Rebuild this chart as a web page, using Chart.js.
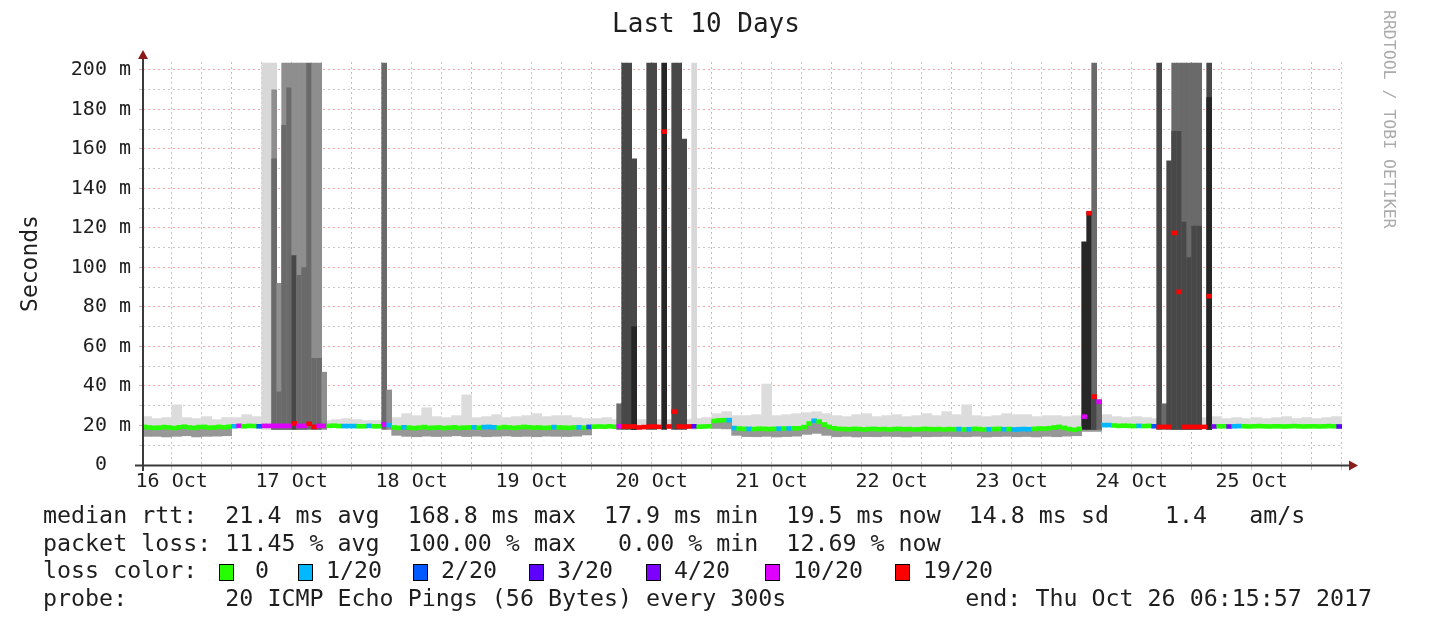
<!DOCTYPE html>
<html><head><meta charset="utf-8">
<script src="https://cdn.jsdelivr.net/npm/chart.js@4/dist/chart.umd.min.js"></script>
<style>html,body{margin:0;padding:0;background:#fff;}canvas{display:block;}</style>
</head><body>
<canvas id="c" width="1454" height="636"></canvas>
<script>
// ---- axis bounds (hours since 16 Oct 00:00) ----
const START_H = 6.2658, END_H = 246.2658;
const FIRST_HOUR = 6;
const dayLabels = ['16 Oct','17 Oct','18 Oct','19 Oct','20 Oct','21 Oct','22 Oct','23 Oct','24 Oct','25 Oct'];
const gridHours = [12,18,24,30,36,42,48,54,60,66,72,78,84,90,96,102,108,114,120,126,132,138,144,150,156,162,168,174,180,186,192,198,204,210,216,222,228,234,240,246];
const yTickValues = [0,10,20,30,40,50,60,70,80,90,100,110,120,130,140,150,160,170,180,190,200];

// ---- hourly median rtt (ms), hours 6..245 ----
const medianMs = [
  19.3,19.0,18.8,18.9,19.2,19.0,18.7,19.1,19.4,19.0,18.8,19.2,19.3,18.9,19.0,19.3,19.1,19.4,
  19.6,19.8,19.6,19.8,19.7,19.6,19.8,19.8,19.8,19.8,19.8,19.8,21.0,19.8,19.8,20.8,19.3,19.8,19.8,19.8,19.9,19.7,19.7,19.7,
  19.7,19.6,19.6,19.8,19.6,19.6,20.5,20.2,19.0,18.8,19.1,18.9,18.7,18.9,19.2,18.8,18.9,19.0,18.7,18.9,19.1,18.8,18.9,19.0,
  19.1,18.9,19.2,19.3,19.1,18.9,19.2,19.0,18.8,19.0,19.3,19.1,18.9,19.0,18.8,18.9,19.2,19.0,18.9,18.8,19.0,19.1,18.9,19.3,
  19.4,19.5,19.4,19.6,19.4,19.6,19.5,19.5,19.5,19.0,19.2,19.4,19.5,19.3,168.8,19.5,27.0,19.5,19.4,19.5,19.6,19.4,19.5,19.6,
  22.3,22.6,22.7,22.7,18.7,18.5,18.3,18.3,18.2,18.4,18.3,18.2,18.3,18.4,18.5,18.5,18.6,18.6,19.2,21.0,22.4,22.0,20.5,19.3,
  18.6,18.3,18.2,18.1,18.3,18.2,18.0,18.2,18.3,18.1,18.2,18.0,18.2,18.3,18.1,18.2,18.0,18.1,18.3,18.2,18.1,18.2,18.0,18.2,
  18.1,18.2,18.0,18.1,18.3,18.2,18.0,18.1,18.2,18.3,18.1,18.2,18.0,18.1,18.2,18.1,18.3,18.5,18.4,18.6,19.0,19.3,18.8,18.2,
  17.8,18.3,24.5,127.5,34.6,32.0,20.2,20.2,20.0,19.8,19.9,19.8,19.7,19.8,19.7,19.8,19.6,19.3,19.3,19.3,117.5,87.7,19.3,19.3,
  19.3,19.3,19.3,85.5,19.5,19.6,19.6,19.5,19.6,19.7,19.6,19.5,19.6,19.7,19.6,19.5,19.6,19.6,19.5,19.6,19.7,19.6,19.5,19.6,
  19.6,19.5,19.6,19.7,19.6,19.5
];
// ---- hourly loss level (index into lossColors), hours 6..245 ----
const lossLevel = [
  0,0,0,0,0,0,0,0,0,0,0,0,0,0,0,0,0,0,
  1,5,0,0,0,2,5,5,5,5,5,5,6,5,5,6,6,5,5,0,0,0,1,1,
  1,0,0,1,0,0,5,1,0,0,1,0,0,0,0,0,0,0,0,0,0,0,0,0,
  1,0,1,1,1,0,0,0,0,0,0,0,0,0,0,0,1,0,0,0,0,1,0,2,
  0,0,0,0,0,5,6,6,6,6,6,6,6,6,6,6,6,6,6,6,3,0,0,0,
  0,0,0,1,1,0,0,1,0,0,0,0,0,1,0,1,0,0,0,0,1,0,0,0,
  0,0,0,0,0,0,0,0,0,0,0,0,0,0,0,0,0,0,0,0,0,0,0,0,
  0,1,0,1,0,0,0,1,0,0,1,0,1,1,1,1,0,0,0,0,0,0,0,0,
  0,0,5,6,6,5,1,1,0,0,0,0,0,1,0,0,2,6,6,6,6,6,6,6,
  6,6,6,6,4,0,0,4,1,1,0,0,0,0,0,0,0,0,0,0,0,0,0,0,
  0,0,0,0,0,3
];

// ---- smoke, 2-hour bins starting at hour 6 (ms) ----
const smokeLo = [
  14.5,14.5,14.2,14.5,14.8,14.2,14.5,14.6,14.8,
  null,null,null,null,null,null,null,null,null,null,null,null,null,null,null,null,
  15.0,14.5,14.3,14.6,14.4,14.5,14.8,14.4,14.6,14.3,14.5,14.7,14.4,14.5,14.3,14.6,14.5,14.4,14.6,15.2,
  null,null,null,null,null,null,null,null,null,null,null,null,
  18.5,18.3,15.0,
  14.4,14.3,14.5,14.2,14.4,14.6,15.5,16.0,15.0,
  14.3,14.5,14.2,14.4,14.3,14.5,14.4,14.2,14.5,14.3,14.4,14.5,
  14.4,14.3,14.5,14.2,14.4,14.5,14.3,14.4,14.2,14.5,14.3,14.6,14.8,
  17.0,17.0,
  null,null,null,null,null,null,null,null,null,null,null,null,null,null,null,null,null,null,null,null,null,null,null,null
];
const smokeMid = [
  19.0,19.0,19.0,19.0,19.0,19.0,19.0,19.0,19.0,
  19.6,19.6,19.6,19.6,19.6,19.6,19.6,19.6,19.6,19.6,19.6,19.6,19.6,19.6,19.6,19.6,
  18.9,18.9,18.9,18.9,18.9,18.9,18.9,18.9,18.9,18.9,18.9,18.9,18.9,18.9,18.9,18.9,18.9,18.9,18.9,18.9,
  19.5,19.5,19.5,19.5,19.5,19.5,19.5,19.5,19.5,19.5,19.5,19.5,
  22.5,22.6,18.5,
  18.3,18.3,18.3,18.4,18.5,18.6,20.0,22.2,19.8,
  18.2,18.2,18.2,18.2,18.2,18.2,18.2,18.2,18.2,18.2,18.2,18.2,
  18.2,18.2,18.2,18.2,18.2,18.2,18.2,18.2,18.2,18.2,18.2,18.2,18.2,
  19.0,19.5,
  19.7,19.7,19.7,19.7,19.7,19.7,19.7,19.7,19.7,19.7,19.7,19.7,19.7,19.7,19.7,19.7,19.7,19.7,19.7,19.7,19.7,19.7,19.7,19.7
];
const smokeHi = [
  24.5,23.5,24.0,30.5,24.0,23.5,24.5,23.0,24.0,
  24.0,25.5,24.5,22.5,22.5,22.5,22.5,22.5,22.5,22.5,23.0,23.5,23.0,22.5,22.5,23.0,
  24.0,26.0,25.0,29.0,24.5,24.0,25.0,35.5,24.0,24.5,25.5,24.0,24.5,25.0,26.0,24.5,25.0,25.0,24.0,23.5,
  23.5,24.0,23.0,24.0,23.0,23.0,23.0,23.0,22.5,23.0,23.5,24.0,
  26.0,27.0,25.0,
  25.0,25.5,41.0,25.0,25.5,26.0,26.5,27.0,26.0,
  25.0,24.5,25.5,26.0,24.5,25.0,25.5,24.5,25.0,26.0,25.0,27.0,
  25.5,30.5,25.0,24.5,25.0,26.0,25.5,25.5,24.5,25.0,25.0,24.5,25.0,
  24.0,24.5,
  25.5,24.5,24.0,24.5,24.0,23.5,24.0,24.5,24.0,23.5,24.0,24.5,23.5,24.0,23.5,24.0,23.5,24.0,24.5,23.5,24.0,23.5,24.0,24.5
];

// ---- high-latency smoke columns (hour, top ms, shade level) ----
const spikeHour  = [30,31,32,32,32,33,33,34,34,35,35,36,36,37,37,38,38,39,40,40,41,41,42,
                    54,55,
                    101,102,103,104,104,107,108,110,112,113,114,116,
                    194,195,196,196,197,209,210,211,212,212,213,213,214,214,215,215,216,216,217,217,219,219];
const spikeTop   = [203.5,203.5,203.5,190,155,92,37,203.5,172,203.5,191,203.5,106,203.5,96,203.5,100,203.5,203.5,54,203.5,54,47,
                    203.5,38,
                    31,203.5,203.5,155,70,203.5,203.5,203.5,203.5,203.5,165,203.5,
                    113,128,203.5,35,33,203.5,31,154,203.5,169,203.5,169,203.5,123,203.5,105,203.5,121,203.5,121,203.5,186];
const spikeShade = [1,1,1,2,3,2,3,2,3,2,3,2,4,2,3,2,3,3,2,3,2,3,2,
                    3,2,
                    3,4,4,4,5,4,4,5,4,4,4,1,
                    5,5,3,4,3,4,3,4,3,4,3,4,3,4,3,4,3,4,3,4,4,5];
const SPIKE_BASE = 18;

const lossColors = ['#26ff00','#00b8ff','#0059ff','#5e00ff','#7e00ff','#dd00ff','#ff0000'];
const lossLabels = ['0','1/20','2/20','3/20','4/20','10/20','19/20'];
const shadeColors = [null,'#d8d8d8','#8e8e8e','#6a6a6a','#484848','#262626'];

const statLines = [
  'median rtt:  21.4 ms avg  168.8 ms max  17.9 ms min  19.5 ms now  14.8 ms sd    1.4   am/s',
  'packet loss: 11.45 % avg  100.00 % max   0.00 % min  12.69 % now'
];
const probeText = 'probe:       20 ICMP Echo Pings (56 Bytes) every 300s';
const endText = 'end: Thu Oct 26 06:15:57 2017';

// ---- build datasets ----
const smokeLight = smokeHi.map((hi, j) => ({x: FIRST_HOUR + 1 + 2 * j, y: [smokeMid[j], hi]}));
const smokeDark = [];
smokeLo.forEach((lo, j) => { if (lo !== null) smokeDark.push({x: FIRST_HOUR + 1 + 2 * j, y: [lo, smokeMid[j]]}); });
const medianBars = medianMs.map((m, i) => ({x: FIRST_HOUR + i + 0.5, y: [m - 1.0, m + 1.0]}));
const spikeBars = spikeHour.map((h, k) => ({x: h + 0.5, y: [SPIKE_BASE, spikeTop[k]]}));

const MONO = '"DejaVu Sans Mono", "Liberation Mono", monospace';
const TXT = '#1e1e1e';
const RED_GRID = 'rgba(238,110,110,0.62)';
const GRAY_GRID = 'rgba(165,165,165,0.62)';

const barCommon = {type: 'bar', barPercentage: 1, categoryPercentage: 1, grouped: false, borderWidth: 0, yAxisID: 'y'};

const deco = {
  id: 'deco',
  afterDatasetsDraw(chart) {
    const {ctx, chartArea: a} = chart;
    ctx.save();
    ctx.strokeStyle = '#3a3a3a';
    ctx.lineWidth = 2;
    ctx.beginPath();
    ctx.moveTo(a.left - 8, a.bottom + 0.5);
    ctx.lineTo(a.right + 7, a.bottom + 0.5);
    ctx.stroke();
    ctx.beginPath();
    ctx.moveTo(a.left, a.bottom + 6);
    ctx.lineTo(a.left, a.top - 6);
    ctx.stroke();
    ctx.fillStyle = '#8b1a1a';
    ctx.beginPath();
    ctx.moveTo(a.left - 5, a.top - 3);
    ctx.lineTo(a.left + 5, a.top - 3);
    ctx.lineTo(a.left, a.top - 12);
    ctx.closePath();
    ctx.fill();
    ctx.beginPath();
    ctx.moveTo(a.right + 6, a.bottom - 4.5);
    ctx.lineTo(a.right + 6, a.bottom + 5.5);
    ctx.lineTo(a.right + 15, a.bottom + 0.5);
    ctx.closePath();
    ctx.fill();
    ctx.restore();
  },
  afterDraw(chart) {
    const ctx = chart.ctx;
    ctx.save();
    ctx.fillStyle = TXT;
    ctx.textBaseline = 'middle';
    ctx.textAlign = 'center';
    ctx.font = '26px ' + MONO;
    ctx.fillText('Last 10 Days', 706, 25);
    // watermark
    ctx.save();
    ctx.translate(1388, 10);
    ctx.rotate(Math.PI / 2);
    ctx.textAlign = 'left';
    ctx.fillStyle = '#ababab';
    ctx.font = '16.5px ' + MONO;
    ctx.fillText('RRDTOOL / TOBI OETIKER', 0, 0);
    ctx.restore();
    // stats
    ctx.textAlign = 'left';
    ctx.font = '23.3px ' + MONO;
    ctx.fillText(statLines[0], 43, 517);
    ctx.fillText(statLines[1], 43, 545);
    ctx.fillText('loss color:', 43, 572);
    const boxX = [219, 298, 413, 529, 646, 765, 895];
    lossColors.forEach((c, i) => {
      ctx.fillStyle = c;
      ctx.fillRect(boxX[i], 564, 15, 17);
      ctx.strokeStyle = '#000';
      ctx.lineWidth = 1;
      ctx.strokeRect(boxX[i] + 0.5, 564.5, 14, 16);
      ctx.fillStyle = TXT;
      ctx.fillText(lossLabels[i], boxX[i] + (i === 0 ? 36 : 28), 572);
    });
    ctx.fillText(probeText, 43, 600);
    ctx.textAlign = 'right';
    ctx.fillText(endText, 1372, 600);
    ctx.restore();
  }
};

new Chart(document.getElementById('c'), {
  data: {
    datasets: [
      Object.assign({}, barCommon, {label: 'median', xAxisID: 'xh', data: medianBars, order: 0,
        backgroundColor: lossLevel.map(l => lossColors[l])}),
      Object.assign({}, barCommon, {label: 'spikes', xAxisID: 'xh', data: spikeBars, order: 1,
        backgroundColor: spikeShade.map(s => shadeColors[s])}),
      Object.assign({}, barCommon, {label: 'smokeDark', xAxisID: 'x', data: smokeDark, order: 2,
        backgroundColor: '#979797'}),
      Object.assign({}, barCommon, {label: 'smokeLight', xAxisID: 'x', data: smokeLight, order: 3,
        backgroundColor: '#dcdcdc'})
    ]
  },
  options: {
    responsive: false,
    animation: false,
    devicePixelRatio: 1,
    layout: {padding: {left: 0, top: 62, right: 111, bottom: 0}},
    plugins: {legend: {display: false}, tooltip: {enabled: false}, title: {display: false}},
    scales: {
      x: {
        type: 'linear', position: 'bottom', min: START_H, max: END_H, offset: false,
        afterBuildTicks: s => { s.ticks = gridHours.map(v => ({value: v})); },
        afterFit: s => { s.height = 171; },
        border: {display: false, dash: [2, 3]},
        grid: {
          offset: false,
          color: c => (c.tick && c.tick.value % 24 === 0) ? RED_GRID : GRAY_GRID,
          tickLength: 5, lineWidth: 1
        },
        ticks: {
          autoSkip: false, maxRotation: 0, minRotation: 0, padding: 0, color: TXT,
          font: {family: MONO, size: 20},
          callback: v => (v % 24 === 12) ? dayLabels[(v - 12) / 24] : ''
        }
      },
      xh: {type: 'linear', display: false, min: START_H, max: END_H, offset: false, grid: {offset: false}},
      y: {
        type: 'linear', position: 'left', min: 0, max: 204.05,
        afterBuildTicks: s => { s.ticks = yTickValues.map(v => ({value: v})); },
        afterFit: s => { s.width = 143; },
        border: {display: false, dash: [2, 3]},
        grid: {
          color: c => {
            const v = c.tick ? c.tick.value : 1;
            if (v === 0) return 'rgba(0,0,0,0)';
            return v % 20 === 0 ? RED_GRID : GRAY_GRID;
          },
          tickLength: 4, lineWidth: 1
        },
        ticks: {
          autoSkip: false, padding: 8, color: TXT,
          font: {family: MONO, size: 20},
          callback: v => (v % 20 !== 0) ? '' : (v === 0 ? '0  ' : v + ' m')
        },
        title: {display: true, text: 'Seconds', color: TXT, font: {family: MONO, size: 23}, padding: {top: 17, bottom: 0}}
      }
    }
  },
  plugins: [deco]
});
</script>
</body></html>
